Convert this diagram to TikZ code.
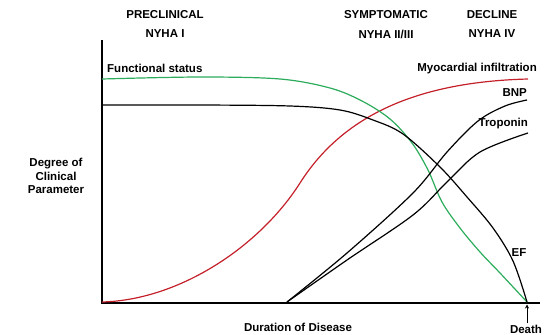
\documentclass[tikz,border=0pt]{standalone}
\usepackage{fontspec}
\setmainfont{Liberation Sans}
\usetikzlibrary{arrows.meta}

\definecolor{infred}{RGB}{196,32,42}
\definecolor{fsgreen}{RGB}{44,172,92}

\newcommand*{\xorig}{102}
\newcommand*{\yorig}{303}
\newcommand*{\xend}{540}
\newcommand*{\ytop}{40}

\begin{document}
\begin{tikzpicture}
[
	x=1pt, y=-1pt,
	lbl/.style={font=\fontsize{11.5}{13.5}\selectfont\bfseries, inner sep=1pt, align=center},
	curve/.style={line width=1.2pt, smooth, tension=0.55},
	axis/.style={line width=2.2pt}
]
	\useasboundingbox (0,0) rectangle (558,335);

	% axes
	\coordinate (orig) at (\xorig,\yorig);
	\coordinate (ytip) at (\xorig,\ytop);
	\coordinate (xtip) at (\xend,\yorig);
	\coordinate (death) at (527,\yorig);
	\draw[axis] (ytip) -- (orig) -- (xtip);

	% stages
	\node[lbl] (precl) at (165,15) {PRECLINICAL};
	\node[lbl] (nyha1) at (165,34) {NYHA I};
	\node[lbl] (sympt) at (386,15) {SYMPTOMATIC};
	\node[lbl] (nyha23) at (386,34) {NYHA II/III};
	\node[lbl] (decl) at (492,15) {DECLINE};
	\node[lbl] (nyha4) at (492,34) {NYHA IV};

	% axis labels
	\node[lbl] (ylabel) at (56,176) {Degree of\\Clinical\\Parameter};
	\node[lbl] (xlabel) at (298,327) {Duration of Disease};
	\node[lbl, anchor=base, inner sep=0pt] (deathlbl) at (526,333) {Death};
	\draw[-{Stealth[length=4pt,width=4pt]}, line width=0.8pt] ([yshift=1pt]deathlbl.north -| death) -- ([yshift=-1.5pt]death);

	% graph
	\draw[line width=1.2pt, infred] (102,302) .. controls (180,300) and (260,246) .. (300,183)
		.. controls (340,120) and (410,82) .. (528,79);
	\draw[curve, fsgreen] plot coordinates {(102,79) (200,77) (280,79) (330,88) (362,101) (390,119) (412,143) (428,170) (442,202) (460,228) (480,252) (500,273) (527,302)};
	\draw[curve] plot coordinates {(102,105) (200,105) (290,106) (340,110) (373,120) (403,134) (440,167) (467,197) (493,228) (513,261) (527,302)};
	\draw[curve] plot coordinates {(287,302) (347,253) (413,193) (447,152) (478,121) (505,106) (527,100)};
	\draw[curve] plot coordinates {(287,302) (347,260) (413,215) (447,182) (480,152) (528,133)};

	% curve labels
	\node[lbl, anchor=west] (fs) at (106,68) {Functional status};
	\node[lbl, anchor=east] (myo) at (538,69) {Myocardial infiltration};
	\node[lbl, anchor=east] (bnp) at (528,93) {BNP};
	\node[lbl, anchor=east] (trop) at (529,124) {Troponin};
	\node[lbl] (ef) at (519,253) {EF};

\end{tikzpicture}
\end{document}
